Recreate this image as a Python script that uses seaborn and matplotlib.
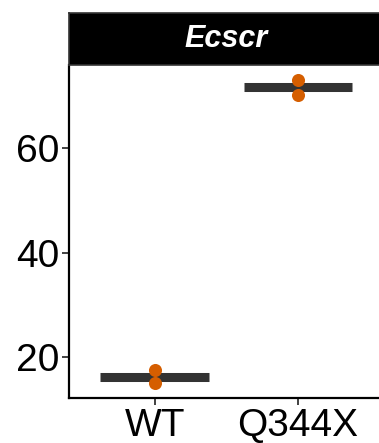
"""Ecscr expression: WT vs Q344X, points with median bar."""
import matplotlib
matplotlib.use("Agg")
import matplotlib.pyplot as plt
import pandas as pd
import seaborn as sns

GENE = "Ecscr"
GENOTYPES = ["WT", "Q344X"]
SAMPLE_GENOTYPE = ["WT", "WT", "Q344X", "Q344X"]
SAMPLE_VALUE = [17.5, 15.0, 73.0, 70.3]
Y_TICKS = [20, 40, 60]

POINT_COLOR = "#D55E00"
BAR_COLOR = "#333333"

sns.set_style("white")
plt.rcParams["font.family"] = ["Liberation Sans", "DejaVu Sans"]

df = pd.DataFrame({"genotype": SAMPLE_GENOTYPE, "value": SAMPLE_VALUE})

fig = plt.figure(figsize=(3.79, 4.43), dpi=100)
ax = fig.add_axes([0.182, 0.1016, 0.831, 0.751])

sns.boxplot(data=df, x="genotype", y="value", order=GENOTYPES, ax=ax,
            width=0.76, whis=0, showbox=False, showcaps=False,
            showfliers=False,
            whiskerprops={"linewidth": 0},
            medianprops={"color": BAR_COLOR, "linewidth": 6.5,
                         "solid_capstyle": "butt"})
sns.stripplot(data=df, x="genotype", y="value", order=GENOTYPES, ax=ax,
              jitter=False, color=POINT_COLOR, size=9.4, linewidth=0,
              zorder=5)

ax.set_xlim(-0.6, 1.6)
ax.set_ylim(12.15, 75.9)
ax.set_yticks(Y_TICKS)
ax.set_xlabel("")
ax.set_ylabel("")
for side in ["top", "right"]:
    ax.spines[side].set_visible(False)
for side in ["left", "bottom"]:
    ax.spines[side].set_linewidth(1.6)
    ax.spines[side].set_color("black")
ax.tick_params(axis="both", labelsize=28, length=5, width=1.3,
               color="#333333", labelcolor="black", pad=2, direction="out")
ax.tick_params(axis="x", bottom=True)
ax.tick_params(axis="y", left=True)

# facet strip
strip = fig.add_axes([0.182, 0.853, 0.831, 0.117])
strip.set_facecolor("black")
strip.set_xticks([])
strip.set_yticks([])
for sp in strip.spines.values():
    sp.set_color("#333333")
    sp.set_linewidth(1.2)
strip.text(0.5, 0.5, GENE, color="white", fontsize=22, fontweight="bold",
           fontstyle="italic", ha="center", va="center",
           transform=strip.transAxes)

fig.savefig("out.png", dpi=100)
